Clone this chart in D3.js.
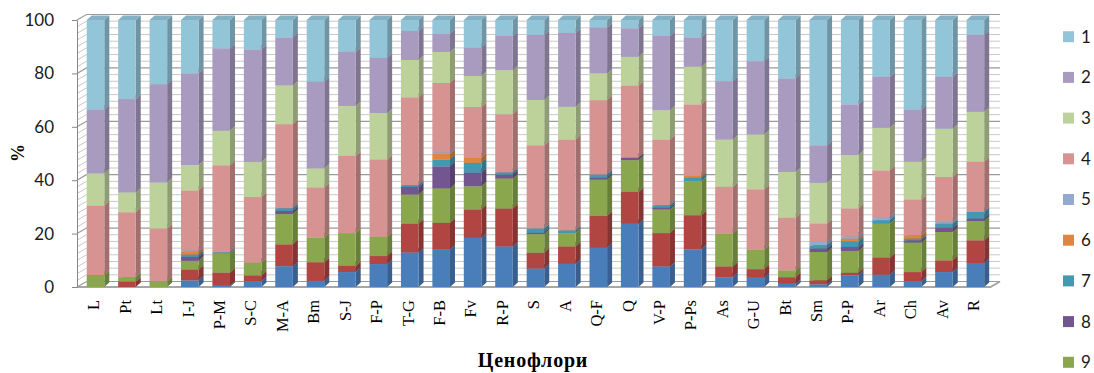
<!DOCTYPE html>
<html>
<head>
<meta charset="utf-8">
<script src="https://cdn.jsdelivr.net/npm/d3@7"></script>
<style>
  body { margin: 0; background: #fff; }
  svg { display: block; }
</style>
</head>
<body>
<svg id="chart" width="1094" height="373"></svg>
<script>
// Ценофлори (categories) along the x axis
const categories = ["L", "Pt", "Lt", "I-J", "P-M", "S-C", "M-A", "Bm", "S-J", "F-P", "T-G", "F-B", "Fv", "R-P", "S", "A", "Q-F", "Q", "V-P", "P-Ps", "As", "G-U", "Bt", "Sm", "P-P", "Ar", "Ch", "Av", "R"];

// Shares (%) of each group per cenoflora; group "1" sits on top of the stack, "11" at the bottom
const series1  = [33.5, 29.6, 24.0, 20.0, 10.6, 11.0, 6.5, 23.1, 11.9, 14.2, 4.1, 5.1, 10.4, 6.0, 5.6, 4.8, 2.8, 3.1, 6.0, 6.5, 22.9, 15.4, 21.9, 46.9, 31.6, 21.3, 33.5, 21.3, 5.6];
const series2  = [24.0, 35.0, 36.9, 34.3, 30.9, 42.2, 18.0, 32.5, 20.3, 20.7, 10.9, 6.9, 10.6, 12.8, 24.4, 27.7, 17.2, 10.7, 27.8, 11.0, 21.9, 27.5, 35.0, 14.1, 19.0, 19.1, 19.6, 19.4, 28.8];
const series3  = [12.0, 7.4, 17.2, 9.5, 12.9, 13.1, 14.5, 7.2, 18.7, 17.4, 14.0, 11.6, 11.6, 16.5, 16.9, 12.3, 10.0, 10.8, 11.0, 14.1, 17.7, 20.5, 17.2, 15.2, 20.0, 15.9, 14.2, 18.1, 18.7];
const series4  = [26.0, 24.3, 19.7, 22.5, 32.6, 24.6, 31.5, 18.6, 28.9, 28.9, 32.9, 25.9, 18.8, 21.8, 31.2, 34.0, 27.9, 27.0, 24.6, 26.8, 17.5, 22.6, 19.7, 6.9, 10.4, 17.5, 13.3, 16.9, 18.8];
const series5  = [0, 0, 0, 0.5, 0, 0, 0, 0, 0, 0, 0, 0.6, 0, 0, 0, 0, 0, 0, 0, 0, 0, 0, 0, 1.3, 0.9, 1.2, 0, 0.6, 0];
const series6  = [0, 0, 0, 1.1, 0, 0, 0, 0, 0, 0, 0, 2.1, 2.1, 0, 0, 0, 0, 0, 0, 0.7, 0, 0, 0, 0, 0.9, 0, 1.3, 0, 0];
const series7  = [0, 0, 0, 0.8, 0.5, 0, 1.0, 0, 0, 0, 0.6, 2.6, 3.7, 0.8, 1.6, 1.0, 1.2, 0, 0.9, 1.3, 0, 0, 0, 1.2, 2.2, 1.3, 0.6, 1.5, 2.5];
const series8  = [0, 0, 0, 1.5, 0, 0, 1.2, 0, 0, 0, 2.9, 8.3, 5.1, 1.5, 0.5, 0, 0.7, 0.9, 0.7, 0, 0, 0, 0, 1.3, 1.5, 0, 0.9, 1.6, 0.9];
const series9  = [4.5, 1.7, 2.2, 3.3, 7.1, 4.7, 11.3, 9.3, 12.3, 7.2, 10.9, 12.9, 8.6, 11.2, 7.0, 5.0, 13.6, 11.9, 8.8, 12.7, 12.3, 7.3, 2.5, 10.6, 8.2, 12.7, 11.0, 10.6, 7.2];
const series10 = [0, 2.0, 0, 4.0, 4.9, 2.2, 8.2, 7.0, 2.3, 3.0, 10.8, 10.0, 10.7, 14.2, 5.9, 6.5, 11.9, 11.9, 12.5, 12.8, 4.0, 3.2, 2.5, 1.5, 0.9, 6.4, 3.4, 4.4, 8.5];
const series11 = [0, 0, 0, 2.5, 0.5, 2.2, 7.8, 2.3, 5.6, 8.6, 12.9, 14.0, 18.4, 15.2, 6.9, 8.7, 14.7, 23.7, 7.7, 14.1, 3.7, 3.5, 1.2, 1.0, 4.4, 4.6, 2.2, 5.6, 9.0];

const seriesLabels = ["1", "2", "3", "4", "5", "6", "7", "8", "9", "10", "11"];
const seriesValues = [series1, series2, series3, series4, series5, series6, series7, series8, series9, series10, series11];
const yTicks = [0, 20, 40, 60, 80, 100];

// fill colours, one per legend entry
const palette = ["#93c5d9", "#a99bc0", "#bdd19a", "#d69391", "#93a9cf", "#e0843f", "#4299b0", "#735690", "#8aa74e", "#b04542", "#4a7ebb"];

const width = 1094, height = 373;
const svg = d3.select("#chart");
const fontSans = "Lato, 'Open Sans', sans-serif";
const fontSerif = "'Liberation Serif', 'DejaVu Serif', serif";

// plot geometry
const axisX = 77;
const wallDx = 9.5, wallDy = 5.5;     // depth of back wall
const barDx = 5, barDy = 4.5;         // depth of each column
const x = d3.scaleBand().domain(categories).range([79.8, 991.1]).paddingInner(0.44).paddingOuter(0.22);
const y = d3.scaleLinear().domain([0, 100]).range([287, 20]);
const floorRight = 990.5;

// rows for stacking
const rows = categories.map((c, i) => {
  const r = { cat: c };
  seriesLabels.forEach((k, j) => { r[k] = seriesValues[j][i]; });
  return r;
});
const stackKeys = seriesLabels.slice().reverse(); // bottom of the stack first
const stacked = d3.stack().keys(stackKeys).offset(d3.stackOffsetExpand)(rows);
const colorOf = d3.scaleOrdinal().domain(seriesLabels).range(palette);

// ---- walls and gridlines ----
const walls = svg.append("g");
const minorVals = d3.range(0, 100.001, 2.5).filter(v => v % 20 !== 0);
function gridLine(v, stroke, w) {
  const yy = y(v);
  walls.append("path")
    .attr("d", `M${axisX},${yy} L${axisX + wallDx},${yy - wallDy} L${floorRight + wallDx},${yy - wallDy}`)
    .attr("fill", "none").attr("stroke", stroke).attr("stroke-width", w);
}
minorVals.forEach(v => gridLine(v, "#c9c9c9", 1));
yTicks.forEach(v => gridLine(v, "#9a9a9a", 1.2));

// floor outline
walls.append("path")
  .attr("d", `M${axisX},${y(0)} L${floorRight},${y(0)} L${floorRight + wallDx},${y(0) - wallDy}`)
  .attr("fill", "none").attr("stroke", "#a6a6a6").attr("stroke-width", 2);

// ---- columns ----
const bw = x.bandwidth();
const bars = svg.append("g");
stacked.forEach(layer => {
  const base = d3.color(colorOf(layer.key));
  const side = base.darker(0.8).formatHex();
  const top = base.darker(0.3).formatHex();
  layer.forEach(d => {
    const v0 = d[0] * 100, v1 = d[1] * 100;
    if (v1 - v0 <= 0) return;
    const x0 = x(d.data.cat), x1 = x0 + bw;
    const yb = y(v0), yt = y(v1);
    bars.append("path")
      .attr("d", `M${x1},${yb} L${x1 + barDx},${yb - barDy} L${x1 + barDx},${yt - barDy} L${x1},${yt} Z`)
      .attr("fill", side);
    bars.append("path")
      .attr("d", `M${x0},${yt} L${x0 + barDx},${yt - barDy} L${x1 + barDx},${yt - barDy} L${x1},${yt} Z`)
      .attr("fill", top);
    bars.append("rect")
      .attr("x", x0).attr("y", yt).attr("width", bw).attr("height", yb - yt)
      .attr("fill", base.formatHex());
  });
});

// ---- axes ----
const yAxis = svg.append("g")
  .attr("transform", `translate(${axisX},0)`)
  .call(d3.axisLeft(y).tickValues(yTicks).tickSize(5).tickSizeOuter(0).tickPadding(18));
yAxis.select(".domain").attr("stroke", "#868686");
yAxis.selectAll(".tick line").attr("stroke", "#868686");
yAxis.selectAll(".tick text").attr("font-family", fontSans).attr("font-size", 17).attr("fill", "#1a1a1a");

const xAxis = svg.append("g")
  .attr("transform", `translate(0,${y(0)})`)
  .call(d3.axisBottom(x).tickSize(0));
xAxis.select(".domain").remove();
xAxis.selectAll(".tick text")
  .attr("transform", "rotate(-90)")
  .attr("text-anchor", "end")
  .attr("x", -13).attr("y", -2).attr("dy", "0.35em")
  .attr("font-family", fontSerif).attr("font-size", 16.5).attr("fill", "#000");

// axis titles
svg.append("text")
  .attr("transform", "translate(18,153) rotate(-90)")
  .attr("text-anchor", "middle").attr("dy", "0.35em")
  .attr("font-family", fontSerif).attr("font-weight", "bold").attr("font-size", 18)
  .text("%");
svg.append("text")
  .attr("x", 533).attr("y", 367)
  .attr("text-anchor", "middle")
  .attr("font-family", fontSerif).attr("font-weight", "bold").attr("font-size", 20)
  .attr("letter-spacing", 0.8)
  .text("Ценофлори");

// ---- legend (entries that fit inside the chart's height) ----
const legend = svg.append("g");
seriesLabels.forEach((k, i) => {
  const cy = 36.7 + i * 40.7;
  if (cy + 8 > height) return;
  legend.append("rect").attr("x", 1063).attr("y", cy - 5.5).attr("width", 11).attr("height", 11)
    .attr("fill", colorOf(k));
  legend.append("text").attr("x", 1081).attr("y", cy).attr("dy", "0.35em")
    .attr("font-family", fontSans).attr("font-size", 17).attr("fill", "#1a1a1a")
    .text(k);
});
</script>
</body>
</html>
